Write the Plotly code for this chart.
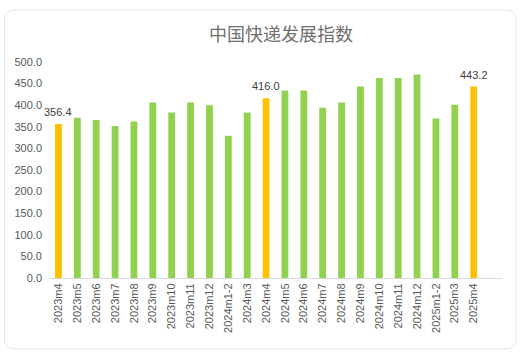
import plotly.graph_objects as go

categories = ["2023m4", "2023m5", "2023m6", "2023m7", "2023m8", "2023m9", "2023m10",
              "2023m11", "2023m12", "2024m1-2", "2024m3", "2024m4", "2024m5", "2024m6",
              "2024m7", "2024m8", "2024m9", "2024m10", "2024m11", "2024m12",
              "2025m1-2", "2025m3", "2025m4"]
values = [356.4, 371, 366, 352, 362, 406, 383, 406, 400, 329, 383, 416.0,
          434, 434, 394, 406, 443, 463, 463, 471, 369, 401, 443.2]
highlighted = ["2023m4", "2024m4", "2025m4"]
y_ticks = [0, 50, 100, 150, 200, 250, 300, 350, 400, 450, 500]

GREEN = "#92D050"
GOLD = "#FFC000"

colors = [GOLD if c in highlighted else GREEN for c in categories]

W, H = 526, 357
L, R, T, B = 49, 24, 62, 79
pw, ph = W - L - R, H - T - B


def px(x):
    return (x - L) / pw


def py(y):
    return (H - B - y) / ph


fig = go.Figure()
fig.add_trace(go.Bar(
    x=list(range(len(categories))), y=values,
    marker=dict(color=colors, line=dict(width=0)),
    width=0.36,
    hoverinfo="x+y",
))

annotations = []
for i, (c, v) in enumerate(zip(categories, values)):
    if c in highlighted:
        annotations.append(dict(
            x=i, y=v, xref="x", yref="y", text=f"{v:.1f}", showarrow=False,
            yanchor="bottom", yshift=4,
            font=dict(family="Liberation Sans, Arial", size=11, color="#404040"),
        ))

# rounded card border
x0, x1, y0, y1, r = 4.5, 516, 10, 349, 10
path = (f"M {px(x0 + r)},{py(y0)} L {px(x1 - r)},{py(y0)} "
        f"Q {px(x1)},{py(y0)} {px(x1)},{py(y0 + r)} "
        f"L {px(x1)},{py(y1 - r)} Q {px(x1)},{py(y1)} {px(x1 - r)},{py(y1)} "
        f"L {px(x0 + r)},{py(y1)} Q {px(x0)},{py(y1)} {px(x0)},{py(y1 - r)} "
        f"L {px(x0)},{py(y0 + r)} Q {px(x0)},{py(y0)} {px(x0 + r)},{py(y0)} Z")

fig.update_layout(
    width=W, height=H,
    margin=dict(l=L, r=R, t=T, b=B),
    paper_bgcolor="white", plot_bgcolor="white",
    showlegend=False,
    title=dict(text="中国快递发展指数", xref="container", x=281 / W, xanchor="center",
               yref="container", y=1 - 35 / H, yanchor="middle",
               font=dict(family="Noto Sans CJK SC", size=18, color="#6f6f6f")),
    xaxis=dict(
        tickmode="array", tickvals=list(range(len(categories))), ticktext=categories,
        range=[-0.5, 23.5], tickangle=-90, showgrid=False,
        showline=True, linecolor="#d9d9d9", linewidth=1, ticks="",
        tickfont=dict(family="Liberation Sans, Arial", size=11, color="#595959"),
        fixedrange=True, automargin=False,
    ),
    yaxis=dict(
        range=[0, 500], tickvals=y_ticks, tickformat=".1f", showgrid=False,
        zeroline=False, showline=False, ticks="", ticklabelstandoff=6,
        tickfont=dict(family="Liberation Sans, Arial", size=11, color="#595959"),
        fixedrange=True, automargin=False,
    ),
    annotations=annotations,
    shapes=[dict(type="path", path=path, xref="paper", yref="paper",
                 line=dict(color="#e6e6e6", width=1), layer="below")],
)

fig.write_html("out.html", config={"displayModeBar": False},
               post_script="document.body.style.margin='0';document.body.style.padding='0';")
